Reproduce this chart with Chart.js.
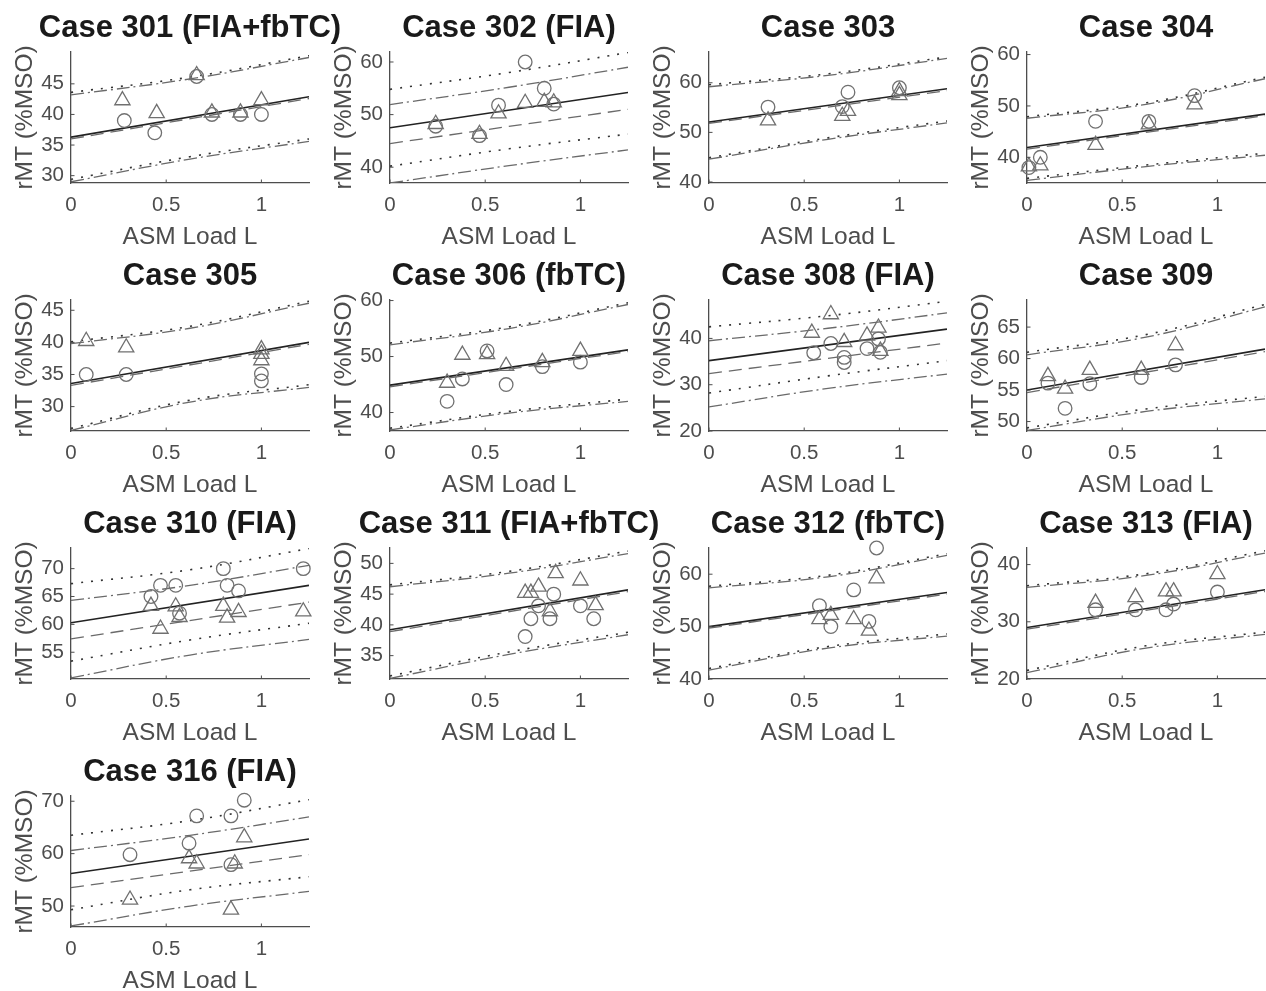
<!DOCTYPE html>
<html>
<head>
<meta charset="utf-8">
<script src="https://cdn.jsdelivr.net/npm/chart.js@4.4.1/dist/chart.umd.min.js"></script>
<style>
  html, body { margin: 0; padding: 0; background: #fff; overflow: hidden; }
  #fig { position: relative; width: 1266px; height: 991px; }
  #fig canvas { position: absolute; }
</style>
</head>
<body>
<div id="fig"></div>
<script>
/* ===== data (one entry per panel) ===== */
const cases = ['Case 301 (FIA+fbTC)', 'Case 302 (FIA)', 'Case 303', 'Case 304', 'Case 305',
  'Case 306 (fbTC)', 'Case 308 (FIA)', 'Case 309', 'Case 310 (FIA)', 'Case 311 (FIA+fbTC)',
  'Case 312 (fbTC)', 'Case 313 (FIA)', 'Case 316 (FIA)'];

const xTicks = [0, 0.5, 1];
const xMax = 1.25;
const lineX = [0, 1.25];          // straight fits
const bandX = [0, 0.625, 1.25];   // curved bands

const yMin = [28.8, 37.0, 39.8, 35.0, 26.2, 36.7, 20.0, 48.5, 50.2, 31.2, 40.0, 20.0, 46.0];
const yMax = [50.2, 61.9, 66.2, 60.5, 46.6, 60.1, 48.3, 69.3, 73.7, 52.5, 65.0, 42.9, 71.0];
const yTicks = [[30, 35, 40, 45], [40, 50, 60], [40, 50, 60], [40, 50, 60], [30, 35, 40, 45],
  [40, 50, 60], [20, 30, 40], [50, 55, 60, 65], [55, 60, 65, 70], [35, 40, 45, 50],
  [40, 50, 60], [20, 30, 40], [50, 60, 70]];

const circles = [
  [[0.28, 39], [0.44, 37], [0.66, 46.2], [0.74, 40], [0.89, 40], [1.0, 40]],
  [[0.24, 47.8], [0.47, 46], [0.57, 51.8], [0.71, 60], [0.81, 55], [0.86, 52]],
  [[0.31, 55.1], [0.70, 55.2], [0.73, 58.1], [1.0, 59.0]],
  [[0.01, 38], [0.07, 40], [0.36, 47], [0.64, 47], [0.88, 52]],
  [[0.08, 35], [0.29, 35], [1.0, 35.1], [1.0, 34]],
  [[0.30, 42], [0.38, 46], [0.51, 51], [0.61, 45], [0.80, 48.2], [1.0, 49]],
  [[0.55, 36.9], [0.64, 38.9], [0.71, 35.9], [0.71, 34.8], [0.83, 37.8], [0.89, 39.9], [0.90, 37.0]],
  [[0.11, 56.1], [0.20, 52.1], [0.33, 56.0], [0.60, 57.0], [0.78, 59.0]],
  [[0.42, 65], [0.47, 67], [0.55, 67], [0.57, 62], [0.80, 70], [0.82, 67], [0.88, 66], [1.22, 70]],
  [[0.71, 38.1], [0.74, 41], [0.78, 43.1], [0.84, 41], [0.86, 45], [1.0, 43.1], [1.07, 41]],
  [[0.58, 54], [0.64, 50], [0.76, 57], [0.84, 51], [0.88, 65]],
  [[0.36, 32.1], [0.57, 32.1], [0.73, 32.1], [0.77, 33.1], [1.0, 35.2]],
  [[0.31, 59.8], [0.62, 62], [0.66, 67.2], [0.84, 67.2], [0.91, 70.2], [0.84, 57.9]]
];

const triangles = [
  [[0.27, 42.3], [0.45, 40.2], [0.66, 46.4], [0.74, 40.3], [0.89, 40.3], [1.0, 42.3]],
  [[0.24, 48.2], [0.47, 46.3], [0.57, 50.2], [0.71, 52.2], [0.81, 52.4], [0.86, 52.3]],
  [[0.31, 52.4], [0.70, 53.3], [0.73, 54.3], [1.0, 58.3], [1.0, 57.5]],
  [[0.01, 38.2], [0.07, 38.4], [0.36, 42.4], [0.64, 46.4], [0.88, 50.3]],
  [[0.08, 40.2], [0.29, 39.2], [1.0, 38.9], [1.0, 38.2], [1.0, 37.2]],
  [[0.30, 45.3], [0.38, 50.3], [0.51, 50.4], [0.61, 48.3], [0.80, 49.0], [1.0, 51.0]],
  [[0.54, 41.2], [0.64, 45.2], [0.71, 39.2], [0.83, 40.6], [0.89, 42.3], [0.90, 37.3]],
  [[0.11, 57.2], [0.20, 55.2], [0.33, 58.2], [0.60, 58.2], [0.78, 62.1]],
  [[0.42, 63.3], [0.47, 59.2], [0.55, 63.2], [0.57, 61.3], [0.80, 63.3], [0.82, 61.2], [0.88, 62.2], [1.22, 62.3]],
  [[0.71, 45.2], [0.74, 45.2], [0.78, 46.2], [0.84, 42.2], [0.87, 48.4], [1.0, 47.2], [1.08, 43.2]],
  [[0.58, 51.4], [0.64, 52.2], [0.76, 51.4], [0.84, 49.2], [0.88, 59.2]],
  [[0.36, 33.3], [0.57, 34.3], [0.73, 35.3], [0.77, 35.3], [1.0, 38.3]],
  [[0.31, 51.2], [0.62, 59.1], [0.66, 58.1], [0.86, 58.1], [0.91, 63.1], [0.84, 49.3]]
];

// solid fit, values at lineX
const fitLine = [[36.3, 42.9], [47.5, 54.2], [52.1, 58.8], [41.9, 48.4], [33.6, 40.0], [44.9, 51.2],
  [35.2, 42.0], [55.0, 61.5], [60.3, 67.0], [39.2, 45.7], [50.0, 56.5], [29.0, 35.6], [56.2, 62.8]];
// dashed line, values at lineX
const meanLine = [[36.0, 42.6], [44.5, 51.0], [51.8, 58.4], [41.6, 48.1], [33.3, 39.7], [44.6, 50.9],
  [32.4, 39.0], [54.6, 61.1], [57.4, 64.0], [38.9, 45.4], [49.7, 56.2], [28.7, 35.3], [53.5, 59.8]];

// bands, values at bandX
const dotUpper = [[43.6, 46.1, 49.6], [54.8, 58.0, 61.8], [59.6, 61.8, 65.2], [47.9, 50.6, 55.6],
  [40.1, 42.5, 46.4], [52.4, 55.3, 59.6], [42.5, 44.9, 48.0], [61.0, 63.8, 68.6], [67.3, 69.8, 73.6],
  [46.5, 48.7, 52.0], [57.7, 59.8, 63.9], [36.3, 38.4, 42.4], [63.5, 66.3, 70.3]];
const dotLower = [[29.4, 33.1, 36.0], [40.2, 43.5, 46.3], [44.9, 48.9, 52.3], [35.9, 38.5, 40.8],
  [26.6, 31.0, 33.4], [37.2, 40.2, 42.4], [28.2, 31.9, 35.2], [49.0, 52.0, 54.0], [53.4, 57.2, 60.2],
  [31.7, 35.6, 38.8], [42.0, 46.2, 48.6], [21.5, 25.8, 28.2], [49.3, 53.1, 55.6]];
const dashDotUpper = [[43.2, 45.8, 49.3], [51.9, 55.2, 59.0], [59.2, 61.5, 64.9], [47.6, 50.3, 55.3],
  [39.8, 42.2, 46.1], [52.1, 55.0, 59.3], [39.5, 42.2, 45.5], [60.6, 63.4, 68.2], [64.3, 67.0, 70.6],
  [46.2, 48.4, 51.6], [57.4, 59.5, 63.6], [36.0, 38.1, 42.0], [60.6, 63.5, 67.0]];
const dashDotLower = [[29.0, 32.7, 35.6], [37.0, 40.3, 43.3], [44.6, 48.6, 51.9], [35.5, 38.2, 40.4],
  [26.3, 30.7, 33.0], [36.9, 39.9, 42.0], [25.2, 29.2, 32.3], [48.6, 51.6, 53.6], [50.4, 54.5, 57.3],
  [31.3, 35.2, 38.4], [41.7, 45.9, 48.2], [21.1, 25.4, 27.8], [46.2, 50.0, 52.8]];

/* ===== layout / style ===== */
const AXIS = '#4d4d4d';
const MARK = '#707070';
const FONT = '"Liberation Sans", Arial, Helvetica, sans-serif';
const colLeft = [70.5, 390, 708.5, 1027];
const rowTop = [51.7, 299.7, 547.7, 795.7];
const plotW = 238, plotH = 131;
const padL = 70, padT = 52, padR = 70, padB = 66;

const toPts = (xs, ys) => xs.map((x, k) => ({ x, y: ys[k] }));

/* titles, axis labels and inward tick marks */
const panelDecor = {
  id: 'panelDecor',
  afterDraw(chart, args, opts) {
    const { ctx, chartArea: a, scales: { x, y } } = chart;
    ctx.save();
    ctx.strokeStyle = AXIS;
    ctx.lineWidth = 1;
    y.ticks.forEach(t => {
      const py = y.getPixelForValue(t.value);
      ctx.beginPath(); ctx.moveTo(a.left, py); ctx.lineTo(a.left + 3.5, py); ctx.stroke();
    });
    x.ticks.forEach(t => {
      const px = x.getPixelForValue(t.value);
      ctx.beginPath(); ctx.moveTo(px, a.bottom); ctx.lineTo(px, a.bottom - 3.5); ctx.stroke();
    });
    const cx = (a.left + a.right) / 2;
    ctx.textAlign = 'center';
    ctx.fillStyle = '#1a1a1a';
    ctx.font = 'bold 31px ' + FONT;
    ctx.textBaseline = 'alphabetic';
    ctx.fillText(opts.title, cx, a.top - 15);
    ctx.fillStyle = AXIS;
    ctx.font = '24.5px ' + FONT;
    ctx.textBaseline = 'middle';
    ctx.fillText('ASM Load L', cx, a.bottom + 54);
    ctx.translate(a.left - 46, (a.top + a.bottom) / 2);
    ctx.rotate(-Math.PI / 2);
    ctx.font = '24.5px ' + FONT;
    ctx.fillText('rMT (%MSO)', 0, 0);
    ctx.restore();
  }
};

function lineSet(data, color, width, dash, tension) {
  return {
    data, showLine: true, pointRadius: 0, borderColor: color, borderWidth: width,
    borderDash: dash, tension, fill: false, clip: 0
  };
}

function buildPanel(i) {
  const col = i % 4, row = Math.floor(i / 4);
  const canvas = document.createElement('canvas');
  canvas.width = padL + plotW + padR;
  canvas.height = padT + plotH + padB;
  canvas.style.left = (colLeft[col] - padL) + 'px';
  canvas.style.top = (rowTop[row] - padT) + 'px';
  document.getElementById('fig').appendChild(canvas);

  const tickFont = { family: FONT, size: 20.5 };

  new Chart(canvas.getContext('2d'), {
    type: 'scatter',
    data: {
      datasets: [
        {
          data: toPts(circles[i].map(p => p[0]), circles[i].map(p => p[1])),
          pointStyle: 'circle', pointRadius: 6.8, pointBorderColor: MARK,
          pointBackgroundColor: 'rgba(0,0,0,0)', pointBorderWidth: 1.3, clip: false
        },
        {
          data: toPts(triangles[i].map(p => p[0]), triangles[i].map(p => p[1])),
          pointStyle: 'triangle', pointRadius: 8.8, pointBorderColor: MARK,
          pointBackgroundColor: 'rgba(0,0,0,0)', pointBorderWidth: 1.3, clip: false
        },
        lineSet(toPts(lineX, fitLine[i]), '#222', 1.6, [], 0),
        lineSet(toPts(lineX, meanLine[i]), '#6a6a6a', 1.3, [13, 7], 0),
        lineSet(toPts(bandX, dotUpper[i]), '#333', 1.6, [2, 8], 0.4),
        lineSet(toPts(bandX, dotLower[i]), '#333', 1.6, [2, 8], 0.4),
        lineSet(toPts(bandX, dashDotUpper[i]), '#6a6a6a', 1.3, [13, 4, 2, 4], 0.4),
        lineSet(toPts(bandX, dashDotLower[i]), '#6a6a6a', 1.3, [13, 4, 2, 4], 0.4)
      ]
    },
    options: {
      responsive: false,
      animation: false,
      devicePixelRatio: 1,
      layout: { padding: { left: 0, top: padT, right: padR, bottom: 0 } },
      plugins: {
        legend: { display: false },
        tooltip: { enabled: false },
        panelDecor: { title: cases[i] }
      },
      scales: {
        x: {
          type: 'linear', min: 0, max: xMax,
          afterFit: s => { s.height = padB; },
          afterBuildTicks: s => { s.ticks = xTicks.map(v => ({ value: v })); },
          grid: { display: false, drawTicks: false },
          border: { color: AXIS, width: 1.3 },
          ticks: { color: AXIS, font: tickFont, padding: 10, maxRotation: 0, autoSkip: false,
            callback: v => String(v) }
        },
        y: {
          type: 'linear', min: yMin[i], max: yMax[i],
          afterFit: s => { s.width = padL; },
          afterBuildTicks: s => { s.ticks = yTicks[i].map(v => ({ value: v })); },
          grid: { display: false, drawTicks: false },
          border: { color: AXIS, width: 1.3 },
          ticks: { color: AXIS, font: tickFont, padding: 7, autoSkip: false,
            callback: v => String(v) }
        }
      }
    },
    plugins: [panelDecor]
  });
}

cases.forEach((_, i) => buildPanel(i));
</script>
</body>
</html>
